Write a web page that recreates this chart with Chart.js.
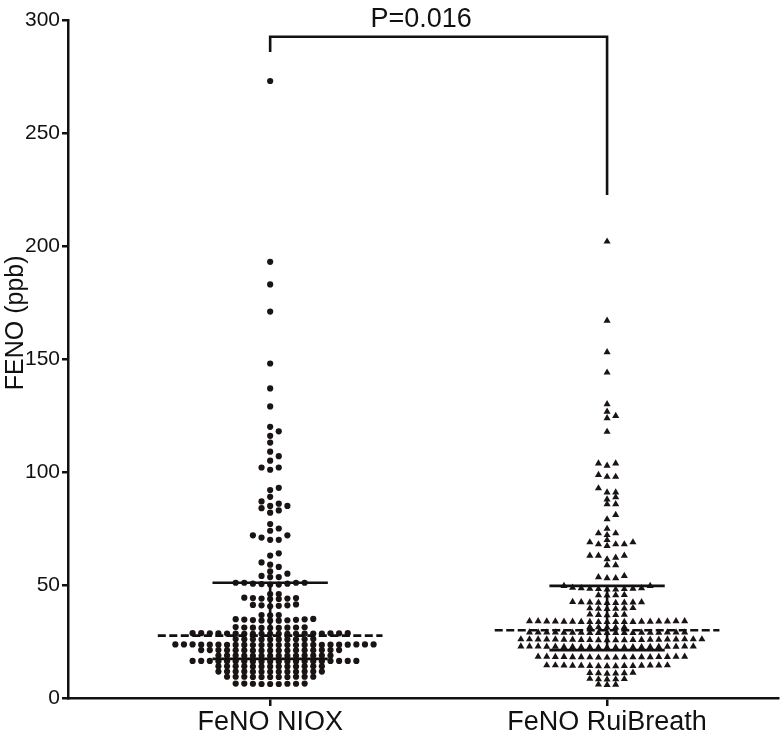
<!DOCTYPE html>
<html><head><meta charset="utf-8">
<script src="https://cdn.jsdelivr.net/npm/chart.js@4"></script>
<style>html,body{margin:0;padding:0;background:#fff;}#wrap{width:782px;height:736px;}</style>
</head><body><div id="wrap"><canvas id="c" width="782" height="736"></canvas></div>
<script>
// ---------------- data ----------------
const categories = ['FeNO NIOX', 'FeNO RuiBreath'];
const yTicks = [0, 50, 100, 150, 200, 250, 300];
const yTitle = 'FENO (ppb)';
const pLabel = 'P=0.016';

const nioxValues = [
  273, 193, 183, 171, 148, 137, 129, 120, 118, 116, 113, 109, 107, 105, 102, 102, 101,
  93, 92, 89, 87, 86, 85, 85, 84, 83, 82, 77, 75, 74, 72, 72, 71, 70, 70, 64, 63,
  60, 59, 58, 56, 55, 54, 53.5, 53.5,
  51, 51, 51, 51, 50.6, 50.6, 50.4, 50.2, 50.2,
  46, 46,
  44.4, 44.2, 44.2, 44, 44, 43.8, 43.8,
  41.4, 41.2, 41, 41, 40.8, 40.6,
  36.7, 36.7, 36.6,
  35, 34.9, 34.8, 34.7, 34.6, 34.5, 34.4, 34.3, 34.2, 34.2,
  31.4, 31.3, 31.2, 31.2, 31.1, 31.1, 31, 31, 31,
  28.7, 28.7, 28.7, 28.6, 28.6, 28.6, 28.6, 28.5, 28.5, 28.5, 28.5, 28.5, 28.4, 28.4, 28.4, 28.4, 28.4, 28.4, 28.4,
  26.1, 26.1, 26.0, 26.0, 26.0, 26.0, 25.9, 25.9, 25.9, 25.9,
  23.7, 23.7, 23.7, 23.7, 23.7, 23.7, 23.6, 23.6, 23.6, 23.6, 23.6, 23.6, 23.5, 23.5, 23.5, 23.5, 23.5, 23.5, 23.4, 23.4, 23.4, 23.4, 23.4, 23.4,
  21.2, 21.2, 21.2, 21.2, 21.2, 21.2, 21.1, 21.1, 21.1, 21.1, 21.1, 21.1, 21.0, 21.0, 21.0, 21.0, 21.0,
  18.8, 18.8, 18.8, 18.8, 18.8, 18.8, 18.8, 18.7, 18.7, 18.7, 18.7, 18.7, 18.7, 18.7,
  16.4, 16.4, 16.4, 16.4, 16.4, 16.4, 16.4, 16.3, 16.3, 16.3, 16.3, 16.3, 16.3, 16.3, 16.2, 16.2, 16.2, 16.2, 16.2, 16.2,
  14.0, 14.0, 14.0, 14.0, 14.0, 14.0, 14.0, 13.9, 13.9, 13.9, 13.9, 13.9, 13.9,
  11.7, 11.7, 11.7, 11.7, 11.7, 11.7, 11.7, 11.6, 11.6, 11.6, 11.6, 11.6, 11.6,
  9.4, 9.4, 9.4, 9.4, 9.4, 9.4, 9.3, 9.3, 9.3, 9.3, 9.3,
  6.4, 6.4, 6.4, 6.3, 6.3, 6.3, 6.2, 6.2, 6.2
];

const ruiValues = [
  202, 167, 153, 144, 130, 126.7, 124.8, 123.8, 117.8, 103.8, 103.8, 102.8, 98.7, 97.9, 97.9,
  92.8, 91, 91, 88.8, 87.9, 85.8, 85.8, 81, 79.1, 74.9, 72.9, 72.9, 72.1,
  69.9, 68.9, 68.9, 68, 68, 68, 67.3, 63, 63, 63, 62.1, 61.4, 58.8, 58.8,
  54, 53.5, 53, 53,
  49.6, 49.6, 48.8, 48.6, 48.4, 48.2, 48.0, 48.0, 48.2, 48.4, 48.6,
  45.6, 45.5, 45.5, 45.4,
  42.5, 42.4, 42.4, 42.3, 42.3, 42.2, 42.2, 42.1, 42.1,
  39.8, 39.7, 39.6, 39.5, 39.5, 39.4,
  37.0, 36.9, 36.8, 36.7, 36.6,
  34.0, 34.0, 34.0, 34.0, 33.9, 33.9, 33.9, 33.9, 33.8, 33.8, 33.8, 33.8, 33.7, 33.7, 33.7, 33.7, 33.6, 33.6, 33.6,
  31.4, 31.3, 31.3, 31.2, 31.2,
  29.0, 29.0, 29.0, 29.0, 29.0, 29.0, 29.0, 28.9, 28.9, 28.9, 28.9, 28.9, 28.9, 28.8, 28.8, 28.8, 28.8, 28.8, 28.8,
  26.0, 26.0, 26.0, 26.0, 26.0, 25.9, 25.9, 25.9, 25.9, 25.9, 25.8, 25.8, 25.8, 25.8, 25.7, 25.7, 25.7, 25.7, 25.6, 25.6, 25.6, 25.6,
  22.8, 22.8, 22.8, 22.8, 22.8, 22.7, 22.7, 22.7, 22.7, 22.6, 22.6, 22.6, 22.6, 22.5, 22.5, 22.5, 22.5, 22.4, 22.4, 22.4, 22.4,
  18.3, 18.3, 18.3, 18.3, 18.2, 18.2, 18.2, 18.2, 18.1, 18.1, 18.1, 18.1, 18.0, 18.0, 18.0, 17.9, 17.9, 17.9,
  14.5, 14.5, 14.5, 14.4, 14.4, 14.4, 14.3, 14.3, 14.3, 14.2, 14.2, 14.2, 14.1, 14.1, 14.1,
  11.2, 11.1, 11.0, 11.0, 10.9, 10.8,
  8.5, 8.4, 8.3, 8.3, 8.2,
  6.0, 5.9, 5.8
];

const medians = [27.6, 30.0];
const q1 = [17.3, 21.2];
const q3 = [51.0, 49.6];

// ---------------- layout constants ----------------
const X_MIN = 0.4, X_MAX = 2.507;
const PX_PER_X = 714 / (X_MAX - X_MIN);
const PX_PER_Y = 678 / 300;
const COL_W = 8.67 / PX_PER_X;     // one swarm column, in x units
const COLLIDE_PX = 4.7;            // vertical distance below which two marks in one column collide
const MED_HALF = 113 / PX_PER_X;
const IQR_HALF = 58 / PX_PER_X;

// deterministic beeswarm: each value keeps its y, gets the nearest free column
function swarm(values, center) {
  const placed = {};
  const order = values.map((v, i) => i).sort((a, b) => values[a] - values[b]);
  const out = new Array(values.length);
  for (const i of order) {
    const ypx = values[i] * PX_PER_Y;
    for (let k = 0; k < 400; k++) {
      const col = k === 0 ? 0 : (k % 2 ? (k + 1) / 2 : -k / 2);
      const arr = placed[col] || (placed[col] = []);
      if (arr.every(p => Math.abs(p - ypx) >= COLLIDE_PX)) {
        arr.push(ypx);
        out[i] = { x: center + col * COL_W, y: values[i] };
        break;
      }
    }
  }
  return out;
}

const lineStyle = { type: 'line', borderColor: '#111', pointRadius: 0, fill: false, tension: 0, order: 0, clip: false };
function hLine(c, y, half, dash) {
  return Object.assign({}, lineStyle, { data: [{ x: c - half, y }, { x: c + half, y }], borderWidth: 2.6, borderDash: dash || [] });
}
function vLine(c, y0, y1) {
  return Object.assign({}, lineStyle, { data: [{ x: c, y: y0 }, { x: c, y: y1 }], borderWidth: 2.6 });
}

const datasets = [];
[0, 1].forEach(g => {
  const c = g + 1;
  datasets.push(hLine(c, medians[g], MED_HALF, [8, 3.5]));
  datasets.push(hLine(c, q1[g], IQR_HALF));
  datasets.push(hLine(c, q3[g], IQR_HALF));
  datasets.push(vLine(c, q1[g], q3[g]));
});
// significance bracket
datasets.push(Object.assign({}, lineStyle, {
  data: [{ x: 1, y: 285.8 }, { x: 1, y: 292.6 }, { x: 2, y: 292.6 }, { x: 2, y: 222.6 }],
  borderWidth: 2.6, borderJoinStyle: 'miter'
}));
datasets.push({
  type: 'scatter', label: categories[0], data: swarm(nioxValues, 1),
  pointStyle: 'circle', pointRadius: 3.1, pointBorderWidth: 0,
  pointBackgroundColor: '#1b1414', order: 1
});
datasets.push({
  type: 'scatter', label: categories[1], data: swarm(ruiValues, 2),
  pointStyle: 'triangle', pointRadius: 4.1, pointBorderWidth: 0,
  pointBackgroundColor: '#1b1414', order: 1
});

const FONT = "'Liberation Sans', Arial, Helvetica, sans-serif";

const textPlugin = {
  id: 'texts',
  afterDraw(chart) {
    const ctx = chart.ctx;
    const xs = chart.scales.x, ys = chart.scales.y;
    ctx.save();
    ctx.fillStyle = '#111';
    ctx.font = '27px ' + FONT;
    ctx.textAlign = 'center';
    ctx.textBaseline = 'alphabetic';
    ctx.fillText(pLabel, xs.getPixelForValue(1.448), ys.getPixelForValue(297));
    ctx.restore();
    ctx.save();
    ctx.fillStyle = '#111';
    ctx.font = '25px ' + FONT;
    ctx.translate(23, ys.getPixelForValue(166));
    ctx.rotate(-Math.PI / 2);
    ctx.textAlign = 'center';
    ctx.textBaseline = 'alphabetic';
    ctx.fillText(yTitle, 0, 0);
    ctx.restore();
  }
};

new Chart(document.getElementById('c'), {
  data: { datasets },
  plugins: [textPlugin],
  options: {
    responsive: false, animation: false, devicePixelRatio: 1,
    layout: { padding: { top: 20, right: 0, left: 0, bottom: 0 } },
    plugins: { legend: { display: false }, tooltip: { enabled: false } },
    scales: {
      x: {
        type: 'linear', min: X_MIN, max: X_MAX,
        afterBuildTicks: s => { s.ticks = [{ value: 1 }, { value: 2 }]; },
        afterFit: s => { s.height = 38; },
        ticks: { autoSkip: false, maxRotation: 0, padding: 0, color: '#111',
          font: { family: FONT, size: 27 }, callback: v => categories[v - 1] },
        grid: { drawOnChartArea: false, drawTicks: true, tickLength: 8, color: '#111', lineWidth: 2.5 },
        border: { display: true, color: '#111', width: 2.5 }
      },
      y: {
        type: 'linear', min: 0, max: 300,
        afterBuildTicks: s => { s.ticks = yTicks.map(v => ({ value: v })); },
        afterFit: s => { s.width = 68; },
        ticks: { autoSkip: false, padding: 2, color: '#111', font: { family: FONT, size: 21 } },
        grid: { drawOnChartArea: false, drawTicks: true, tickLength: 6, color: '#111', lineWidth: 2.5 },
        border: { display: true, color: '#111', width: 2.5 }
      }
    }
  }
});
</script></body></html>
